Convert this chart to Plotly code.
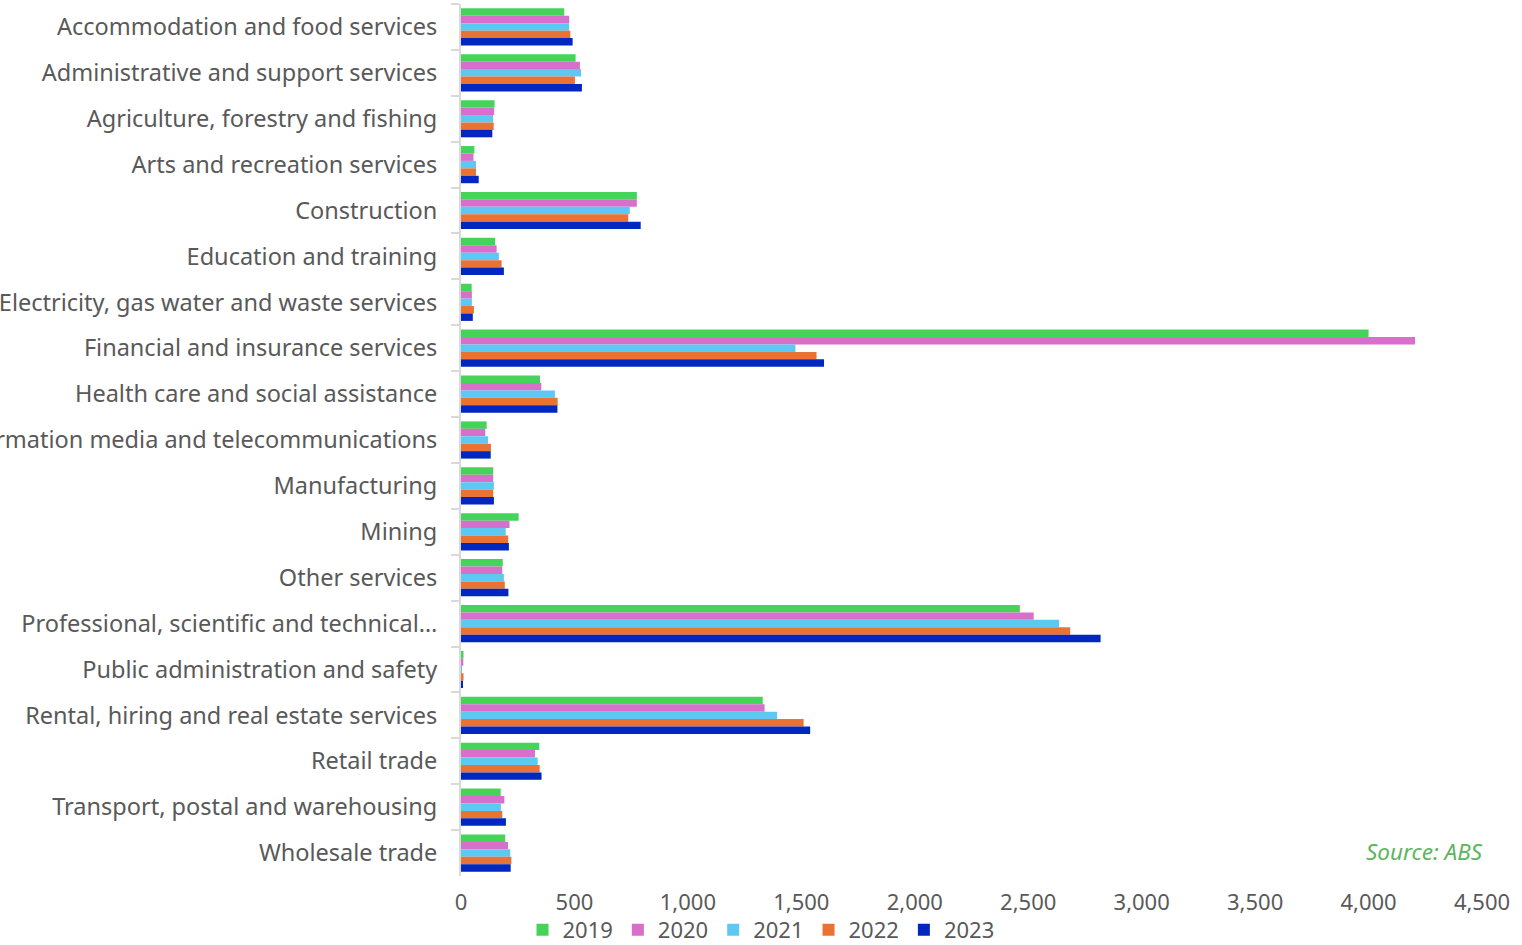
import plotly.graph_objects as go

industries = [
    "Accommodation and food services",
    "Administrative and support services",
    "Agriculture, forestry and fishing",
    "Arts and recreation services",
    "Construction",
    "Education and training",
    "Electricity, gas water and waste services",
    "Financial and insurance services",
    "Health care and social assistance",
    "Information media and telecommunications",
    "Manufacturing",
    "Mining",
    "Other services",
    "Professional, scientific and technical…",
    "Public administration and safety",
    "Rental, hiring and real estate services",
    "Retail trade",
    "Transport, postal and warehousing",
    "Wholesale trade",
]

years = ["2019", "2020", "2021", "2022", "2023"]

v2019 = [455, 505, 148, 59, 775, 150, 47, 4000, 348, 113, 142, 254, 184, 2463, 11, 1330, 345, 175, 195]
v2020 = [477, 524, 146, 55, 775, 157, 48, 4205, 354, 107, 142, 214, 182, 2524, 10, 1338, 326, 191, 207]
v2021 = [476, 529, 141, 66, 744, 167, 48, 1474, 414, 119, 145, 197, 189, 2636, 4, 1393, 338, 176, 217]
v2022 = [482, 502, 144, 66, 737, 179, 57, 1567, 426, 132, 142, 208, 193, 2685, 11, 1510, 347, 182, 222]
v2023 = [492, 533, 138, 78, 792, 189, 52, 1600, 425, 131, 145, 211, 209, 2819, 8, 1539, 355, 198, 219]

series = [v2019, v2020, v2021, v2022, v2023]
colors = ["#46D35A", "#D76FCB", "#5DC9F3", "#EA7233", "#0027BF"]

FONT = "Noto Sans"
TEXT = "#595959"

fig = go.Figure()
for name, vals, col in zip(years, series, colors):
    fig.add_trace(go.Bar(
        y=industries, x=vals, name=name, orientation="h",
        marker=dict(color=col, line=dict(width=0)),
    ))

fig.update_layout(
    width=1522, height=945,
    margin=dict(l=461, r=40, t=4, b=69, autoexpand=False),
    paper_bgcolor="white", plot_bgcolor="white",
    barmode="group", bargap=0.19, bargroupgap=0,
    font=dict(family=FONT, size=22, color=TEXT),
    showlegend=True,
    legend=dict(
        orientation="h", xref="container", yref="container",
        x=0.5, xanchor="center", y=0.016, yanchor="middle",
        bgcolor="rgba(0,0,0,0)",
        font=dict(family=FONT, size=22, color=TEXT),
        itemwidth=30, tracegroupgap=0,
    ),
    xaxis=dict(
        range=[0, 4500], dtick=500, tickformat=",d",
        showgrid=False, zeroline=False, showline=False,
        ticks="", ticklabelstandoff=11,
        tickfont=dict(family=FONT, size=22, color=TEXT),
    ),
    yaxis=dict(
        autorange="reversed", type="category",
        showgrid=False, zeroline=False,
        showline=True, linecolor="#D9D9D9", linewidth=2,
        ticks="outside", tickson="boundaries", ticklen=8,
        tickcolor="#D9D9D9", tickwidth=2,
        ticklabelstandoff=17,
        tickfont=dict(family=FONT, size=23.5, color=TEXT),
        automargin=False,
    ),
    annotations=[dict(
        text="<i>Source: ABS</i>", xref="paper", yref="paper",
        x=1.0, y=0.028, xanchor="right", yanchor="middle", xshift=3,
        showarrow=False, font=dict(family=FONT, size=22.5, color="#5DB55D"),
    )],
)

fig.write_html("out.html")
